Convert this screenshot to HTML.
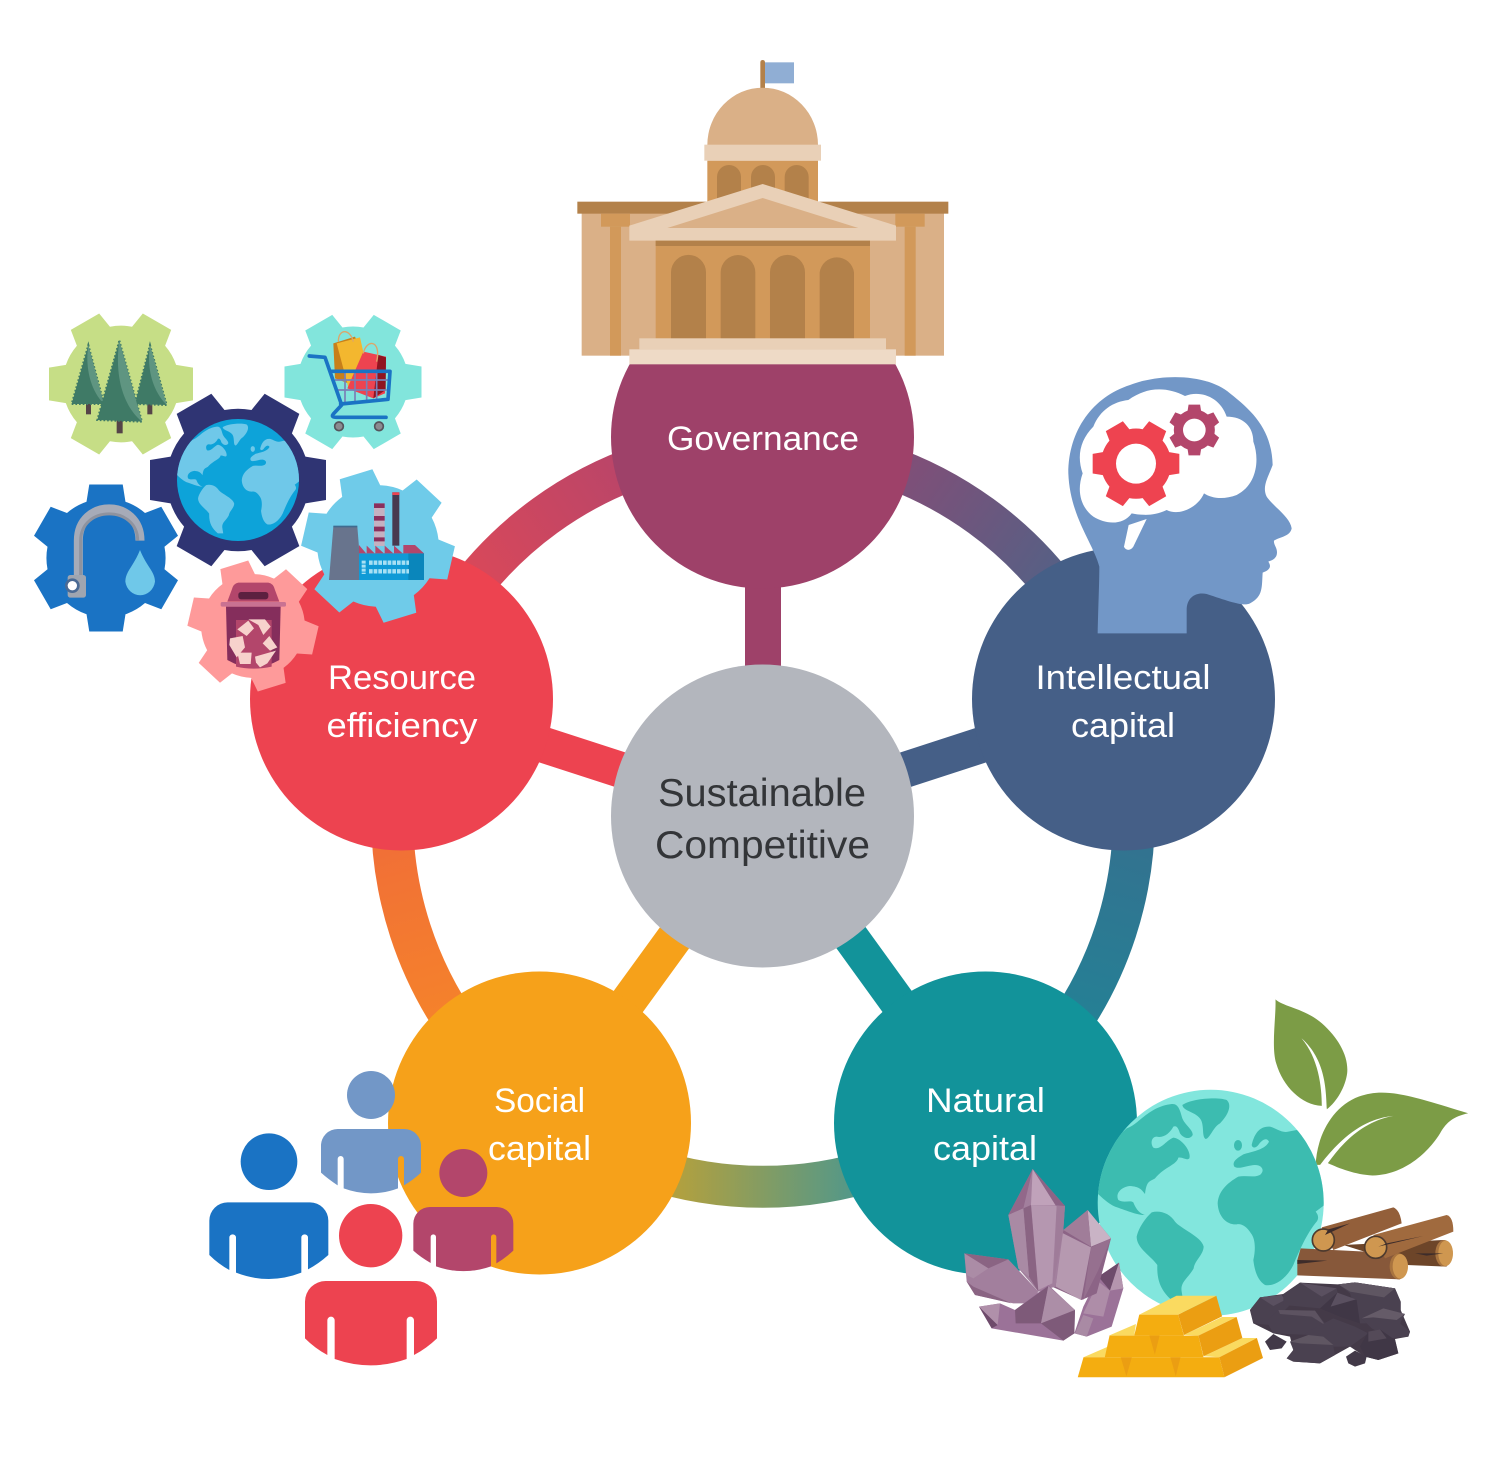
<!DOCTYPE html>
<html><head><meta charset="utf-8"><title>Sustainable Competitive</title>
<style>html,body{margin:0;padding:0;background:#fff}svg{display:block}text{font-family:"Liberation Sans",sans-serif;text-anchor:middle}</style></head>
<body>
<svg xmlns="http://www.w3.org/2000/svg" width="1500" height="1470" viewBox="0 0 1500 1470">
<defs>
<path id="gear" d="M.766-.265L1-.227V.227L.766.265A.81.81 0 0 1 .6125.5305L.697.752L.303.98L.1535.7955A.81.81 0 0 1-.1535.7955L-.303.98L-.697.752L-.6125.5305A.81.81 0 0 1-.766.265L-1 .227V-.227L-.766-.265A.81.81 0 0 1-.6125-.5305L-.697-.752L-.303-.98L-.1535-.7955A.81.81 0 0 1 .1535-.7955L.303-.98L.697-.752L.6125-.5305A.81.81 0 0 1 .766-.265Z"/>
<clipPath id="gc"><circle cx="347" cy="353.5" r="339"/></clipPath>
<g id="land" clip-path="url(#gc)">
<path d="M95,130C130,120 160,65 230,57C250,55 255,75 262,100C270,120 295,135 293,150C285,165 265,160 255,145C250,130 245,120 235,125C225,145 205,160 185,155C170,155 165,175 175,188C195,198 215,165 235,158C260,160 290,200 283,220C275,228 262,215 250,218C245,240 210,245 180,280C165,290 155,285 150,327C140,315 135,305 105,303C80,305 60,325 70,345C85,355 105,345 115,352C120,365 130,385 150,390C130,392 90,375 60,365C30,350 15,330 -5,315C5,230 50,170 95,130Z"/>
<path d="M262,60C290,40 370,35 395,45C412,60 400,90 375,115C355,125 345,160 332,162C320,155 328,125 318,105C305,80 265,80 262,60Z"/>
<path d="M170,382C195,375 225,385 240,410C255,430 320,455 326,485C325,510 300,525 296,550C280,580 255,590 260,620L265,650L235,650C200,620 185,590 187,540C165,510 125,490 125,455C130,430 150,400 170,382Z"/>
<path d="M470,180C478,145 495,122 525,125C545,130 560,145 580,140L605,135L720,200L720,350L686,362L662,380C670,390 672,400 665,410C640,440 620,480 595,540C570,590 530,605 510,600C485,585 478,550 475,525C483,490 480,460 468,445C455,425 440,415 425,418C395,420 370,395 368,355C370,320 395,295 430,275C455,270 480,280 497,268C510,255 500,240 480,240C460,240 430,255 418,245C410,230 425,220 445,208C470,200 510,195 522,170C515,155 500,165 490,180C482,190 472,190 470,180Z"/>
<ellipse cx="429" cy="181" rx="12" ry="16"/>
</g>
<linearGradient id="r1" gradientUnits="userSpaceOnUse" x1="470" y1="570" x2="620" y2="470"><stop offset="0" stop-color="#d8485a"/><stop offset="1" stop-color="#bb4568"/></linearGradient>
<linearGradient id="r2" gradientUnits="userSpaceOnUse" x1="905" y1="470" x2="1050" y2="570"><stop offset="0" stop-color="#7f4f78"/><stop offset="1" stop-color="#585f84"/></linearGradient>
<linearGradient id="r3" gradientUnits="userSpaceOnUse" x1="1135" y1="850" x2="1085" y2="1020"><stop offset="0" stop-color="#327390"/><stop offset="1" stop-color="#258095"/></linearGradient>
<linearGradient id="r4" gradientUnits="userSpaceOnUse" x1="680" y1="1190" x2="850" y2="1190"><stop offset="0" stop-color="#b0a040"/><stop offset="1" stop-color="#559887"/></linearGradient>
<linearGradient id="r5" gradientUnits="userSpaceOnUse" x1="390" y1="850" x2="440" y2="1020"><stop offset="0" stop-color="#f17036"/><stop offset="1" stop-color="#f5822b"/></linearGradient>
</defs>

<!-- ring -->
<g fill="none" stroke-width="42">
<path d="M410.2,701.4A371,371 0 0 1 763,445" stroke="url(#r1)"/>
<path d="M763,445A371,371 0 0 1 1115.8,701.4" stroke="url(#r2)"/>
<path d="M1115.8,701.4A371,371 0 0 1 981,1116" stroke="url(#r3)"/>
<path d="M981,1116A371,371 0 0 1 545,1116" stroke="url(#r4)"/>
<path d="M545,1116A371,371 0 0 1 410.2,701.4" stroke="url(#r5)"/>
</g>
<!-- spokes -->
<g stroke-width="36">
<line x1="763" y1="816" x2="763" y2="437" stroke="#9e4169"/>
<line x1="763" y1="816" x2="1123" y2="699" stroke="#455f87"/>
<line x1="763" y1="816" x2="985" y2="1123" stroke="#12939a"/>
<line x1="763" y1="816" x2="540" y2="1123" stroke="#f6a11a"/>
<line x1="763" y1="816" x2="402" y2="699" stroke="#ed4350"/>
</g>
<!-- circles -->
<circle cx="762.5" cy="437" r="151.5" fill="#9e4169"/>
<circle cx="1123.5" cy="699" r="151.5" fill="#455f87"/>
<circle cx="985.5" cy="1123" r="151.5" fill="#12939a"/>
<circle cx="539.5" cy="1123" r="151.5" fill="#f6a11a"/>
<circle cx="401.5" cy="699" r="151.5" fill="#ed4350"/>
<circle cx="762.5" cy="816" r="151.5" fill="#b3b6bd"/>

<!-- building -->
<g transform="translate(570,50) scale(.33333)">
<rect x="571" y="30" width="14" height="90" rx="7" fill="#b3814a"/>
<rect x="585" y="37" width="87" height="63" fill="#90aed4"/>
<path d="M412,285A166,172 0 0 1 744,285Z" fill="#dab087"/>
<rect x="412" y="332" width="332" height="130" fill="#d2995a"/>
<g fill="#b3814a">
<path d="M441,450V381a36,36 0 0 1 72,0V450Z"/><path d="M543,450V381a36,36 0 0 1 72,0V450Z"/><path d="M644,450V381a36,36 0 0 1 72,0V450Z"/>
</g>
<rect x="403" y="284" width="350" height="48" fill="#e9d0b7"/>
<rect x="35" y="490" width="1087" height="427" fill="#dab087"/>
<rect x="22" y="455" width="1113" height="36" fill="#b3814a"/>
<g fill="#d2995a">
<rect x="93" y="491" width="87" height="39"/><rect x="120" y="530" width="33" height="387"/>
<rect x="976" y="491" width="88" height="39"/><rect x="1004" y="530" width="33" height="387"/>
<rect x="257" y="572" width="643" height="293"/>
</g>
<path d="M178,527L578,402L978,527V572H178Z" fill="#e9d0b7"/>
<path d="M292,534L578,444L865,534Z" fill="#dab087"/>
<rect x="257" y="572" width="643" height="16" fill="#b3814a"/>
<g fill="#b3814a">
<path d="M303,865V667a52,52 0 0 1 105,0V865Z"/><path d="M452,865V667a52,52 0 0 1 104,0V865Z"/><path d="M600,865V667a52,52 0 0 1 105,0V865Z"/><path d="M749,865V667a52,52 0 0 1 103,0V865Z"/>
</g>
<rect x="208" y="865" width="740" height="33" fill="#e9d0b7"/>
<rect x="178" y="898" width="800" height="45" fill="#eedac6"/>
</g>

<!-- head -->
<g transform="translate(1050,370) scale(.33333)">
<path fill="#7297c7" d="M143,790C145,700 148,640 148,590C130,520 60,440 55,310C55,180 130,80 240,45C330,10 470,10 540,70C610,125 665,180 668,285C655,320 635,350 650,380C670,410 720,440 725,475C720,500 690,500 672,512C670,525 685,535 680,555C675,570 660,572 655,575C665,590 660,600 638,608C635,650 640,680 600,700C580,710 540,695 470,672C440,665 410,680 410,720L410,790Z"/>
<path fill="#fff" d="M235,90C290,50 350,50 405,78C450,60 510,80 530,140C580,140 610,170 610,215C630,270 620,345 560,375C520,390 485,385 462,370C445,410 390,440 350,420C310,440 270,435 245,430C220,465 170,465 130,440C90,410 80,360 98,310C80,260 90,210 130,170C150,120 190,95 235,90Z"/>
<path fill="#fff" d="M236,465L290,447L250,530C240,545 225,540 222,530Z"/>
<use href="#gear" transform="translate(258,281) scale(130)" fill="#ee4350"/>
<circle cx="258" cy="281" r="60" fill="#fff"/>
<use href="#gear" transform="translate(433,180) rotate(30) scale(76)" fill="#b3466b"/>
<circle cx="433" cy="180" r="34" fill="#fff"/>
</g>

<!-- gears -->
<use href="#gear" transform="translate(121,384) scale(72)" fill="#c6de86"/>
<use href="#gear" transform="translate(353,382) scale(68.5)" fill="#82e5dc"/>
<use href="#gear" transform="translate(106,558) rotate(30) scale(73.5)" fill="#1a73c4"/>
<use href="#gear" transform="translate(238,480) scale(88)" fill="#2f3473"/>
<circle cx="238" cy="480" r="61" fill="#0da3d9"/>
<g transform="translate(238,480) scale(.18) translate(-347,-353.5)" fill="#6fc8e9"><use href="#land"/></g>
<use href="#gear" transform="translate(378,546) rotate(13) scale(75)" fill="#6fcbe9"/>
<use href="#gear" transform="translate(253,626) rotate(13) scale(64)" fill="#fe9a9a"/>

<g transform="translate(20,300) scale(.33333)">
<!-- trees -->
<rect x="198" y="305" width="15" height="38" fill="#554448"/>
<rect x="382" y="305" width="15" height="38" fill="#554448"/>
<path d="M205,135L252,312L155,312Z" fill="#3f7a66" stroke="#3f7a66" stroke-width="6" stroke-dasharray="5 6"/><path d="M205,135C195,200 210,270 252,312Z" fill="#5f9581"/>
<path d="M390,135L440,315L345,312Z" fill="#3f7a66" stroke="#3f7a66" stroke-width="6" stroke-dasharray="5 6"/><path d="M390,135C380,200 395,270 440,315Z" fill="#5f9581"/>
<rect x="290" y="350" width="18" height="50" fill="#554448"/>
<path d="M298,122L366,365L232,360Z" fill="#3f7a66" stroke="#3f7a66" stroke-width="6" stroke-dasharray="5 6"/><path d="M298,122C285,210 300,310 366,365Z" fill="#5f9581"/>
<!-- tap -->
<path d="M175,830V722C175,595 360,595 360,722" fill="none" stroke="#a6abb8" stroke-width="27"/>
<path d="M182,830V722C182,615 353,615 353,722" fill="none" stroke="#8e939f" stroke-width="9"/>
<rect x="143" y="825" width="55" height="68" rx="8" fill="#9fa5b0"/>
<circle cx="157" cy="857" r="22" fill="#4b6a94"/><circle cx="157" cy="857" r="14" fill="#fff"/>
<path d="M360,750C380,800 405,815 405,845A45,48 0 0 1 316,845C316,815 340,800 360,750Z" fill="#6fc8e9"/>
<!-- cart -->
<path d="M940,130L1005,110L1025,160L985,250L945,235Z" fill="#c77f1a"/>
<path d="M950,130L1020,112L1032,165L985,262Z" fill="#f3b72f"/>
<path d="M1030,155L1098,170L1095,280L1060,295L982,265Z" fill="#ee4350"/>
<path d="M1075,165L1098,172L1097,270L1060,295Z" fill="#8f1420"/>
<path d="M955,125C955,85 990,85 1000,125M1030,160C1040,115 1085,120 1070,185" fill="none" stroke="#dca66a" stroke-width="4"/>
<path d="M945,240H1105M950,270H1100M975,215V310M1005,215V310M1040,215V305M1070,215V305" stroke="#7a7fb5" stroke-width="5" fill="none"/>
<path d="M868,168L915,172L965,315L940,342Q932,352 950,352H1098M935,214H1110L1104,298L962,312" fill="none" stroke="#1a73c4" stroke-width="11" stroke-linecap="round" stroke-linejoin="round"/>
<circle cx="957" cy="379" r="13" fill="#8b8b90" stroke="#55555c" stroke-width="5"/><circle cx="1077" cy="379" r="13" fill="#8b8b90" stroke="#55555c" stroke-width="5"/>
<!-- factory -->
<path d="M940,680H1012L1025,840H927Z" fill="#68748d"/><rect x="940" y="677" width="72" height="5" fill="#3f6b8f"/>
<rect x="1062" y="610" width="32" height="128" fill="#c5b0c0"/>
<path d="M1062,610h32v14h-32zM1062,648h32v14h-32zM1062,680h32v14h-32zM1062,712h32v12h-32z" fill="#8a2f5c"/>
<rect x="1117" y="577" width="21" height="160" fill="#48394f"/><rect x="1117" y="577" width="21" height="8" fill="#ee4350"/>
<rect x="1017" y="760" width="195" height="80" fill="#0f9ad6"/><rect x="1165" y="760" width="47" height="80" fill="#0a86bb"/>
<path d="M1017,735L1040,762L1040,737L1066,762L1066,737L1094,762L1094,737L1122,762L1122,737L1150,762L1150,735H1185L1212,760H1017Z" fill="#b3466b"/>
<path d="M1047,788H1167M1047,814H1167" stroke="#a7e0f4" stroke-width="13" stroke-dasharray="11 3" fill="none"/>
<path d="M1031,782V822" stroke="#a7e0f4" stroke-width="12" stroke-dasharray="9 3" fill="none"/>
<!-- bin -->
<path d="M618,920H782L778,1080Q700,1125 622,1080Z" fill="#852e5c"/>
<path d="M648,960H755V1100Q700,1112 648,1100Z" fill="#b3466b"/>
<path d="M655,848H745Q760,850 765,870L778,905H622L635,870Q640,850 655,848Z" fill="#b3466b"/>
<rect x="655" y="876" width="90" height="22" rx="8" fill="#5c2040"/>
<rect x="602" y="906" width="196" height="14" rx="5" fill="#c97292"/>
</g>
<g transform="translate(180,560) scale(.33333)" fill="#f7d2cc">
<path d="M205,182L222,205L200,228L172,208Z"/><path d="M205,178H255L272,200L250,225L235,195Z"/>
<path d="M268,228L292,262L270,272L248,250Z"/><path d="M225,290L288,272L262,310L240,322L228,308Z"/>
<path d="M172,278H215L212,312H180Z"/><path d="M150,235L188,228L195,262L170,292L148,255Z"/>
</g>

<!-- leaves -->
<g transform="translate(950,990) scale(.338,.333)">
<path fill="#7c9c46" d="M963,28C985,50 1050,55 1100,100C1150,145 1180,200 1175,250C1170,290 1145,335 1115,358C1112,300 1112,210 1040,145C1090,205 1100,290 1100,348C1040,345 985,290 965,220C950,170 965,80 963,28Z"/>
<path fill="#7c9c46" d="M1533,370C1490,380 1470,395 1450,430C1420,480 1350,555 1250,557C1200,555 1150,535 1118,520C1160,460 1220,395 1312,378C1240,385 1170,425 1095,525L1082,525C1085,440 1130,350 1210,320C1290,290 1370,320 1533,370Z"/>
</g>
<!-- globe -->
<circle cx="1210.7" cy="1202.8" r="113" fill="#82e6dd"/>
<g transform="translate(1095,1085) scale(.33333)" fill="#3cbcb0"><use href="#land"/></g>

<!-- logs + coal -->
<g transform="translate(1240,1190) scale(.33333)">
<path d="M310,165L610,150L620,230L500,225Z" fill="#6d4529"/>
<ellipse cx="612" cy="190" rx="26" ry="40" fill="#a9743f"/>
<ellipse cx="617" cy="190" rx="22" ry="38" fill="#cf9750"/>
<path d="M525,190L610,190L560,197Z" fill="#3d2c2a"/>
<path d="M182,175L480,190V268L172,256V210Z" fill="#87583a"/>
<ellipse cx="476" cy="229" rx="27" ry="39" fill="#a9743f"/>
<ellipse cx="481" cy="229" rx="23" ry="37" fill="#cf9750"/>
<path d="M172,210L262,212L172,222Z" fill="#3d2c2a"/>
<path d="M245,112L460,52Q480,60 485,100L280,180Z" fill="#935f3a"/>
<circle cx="250" cy="150" r="33" fill="#cf9750" stroke="#4d3a2e" stroke-width="5"/>
<path d="M255,135L330,100L265,118Z" fill="#3d2c2a"/>
<path d="M400,135L620,75Q640,80 640,125L435,205Z" fill="#a06a3e"/>
<circle cx="407" cy="172" r="33" fill="#cf9750" stroke="#4d3a2e" stroke-width="5"/>
<path d="M415,170L550,138L440,160Z" fill="#3d2c2a"/>
<g fill="#4a4150">
<path d="M40,400L30,360L60,322L130,312L180,278L295,283L345,277L465,295L482,335V360L510,425L505,440L465,447L475,490L415,510L375,500L330,470L285,495L240,520L160,515L140,505L160,480L150,440L100,430Z" fill="#443a48"/>
<path d="M295,283L345,277L465,295L482,335V400H360L330,310Z"/>
<path d="M295,283L345,277L465,295L432,322L330,305Z" fill="#5f5662"/>
<path d="M30,360L60,322L125,315L150,345L90,405L40,400Z"/>
<path d="M60,322L125,315L135,330L100,348Z" fill="#5a5060"/>
<path d="M130,312L180,278L290,295L295,320L240,355L130,345Z"/>
<path d="M180,278L290,295L245,320Z" fill="#5a5060"/>
<path d="M240,355L292,308L350,330L360,400L300,380Z" fill="#403746"/>
<path d="M292,308L348,328L272,350Z" fill="#5a5060"/>
<path d="M80,395L115,360L225,362L255,400L215,435L100,430Z"/>
<path d="M115,360L225,362L255,405L215,380L120,372Z" fill="#5d5361"/>
<path d="M195,430L280,385L345,410L385,430L330,470L260,470Z"/>
<path d="M365,385L430,355L495,372L480,400L510,425L505,440L450,445L395,415Z"/>
<path d="M365,385L430,355L495,372L470,390L400,382Z" fill="#655b68"/>
<path d="M360,470L385,425L420,418L465,450L475,490L415,510L375,500Z" fill="#403746"/>
<path d="M385,425L420,418L440,445L385,455Z" fill="#544a58"/>
<path d="M150,455L205,435L250,440L280,470L285,495L240,520L160,515L140,505L160,480Z"/>
<path d="M150,455L205,435L250,440L280,465L180,460Z" fill="#5f5662"/>
<path d="M75,455L100,432L140,455L125,475L90,480Z" fill="#423948"/>
<path d="M318,500L345,482L380,500L375,520L345,530L325,520Z" fill="#423948"/>
</g>
</g>

<!-- gold -->
<g transform="translate(950,990) scale(.338,.333)">
<path d="M395,1103L470,1070L465,1103Z" fill="#fada60"/>
<path d="M750,1100L797,1103L908,1045L865,1045Z" fill="#fada60"/>
<path d="M395,1103L378,1163H812L797,1103Z" fill="#f4ad10"/>
<path d="M797,1103L908,1045L926,1105L812,1163Z" fill="#eb9e12"/>
<path d="M470,1038H545L550,1003Z" fill="#fada60"/>
<path d="M692,1036L735,1038L848,982L805,982Z" fill="#fada60"/>
<path d="M472,1038L458,1103H750L735,1038Z" fill="#f4ad10"/>
<path d="M735,1038L848,982L865,1045L750,1100Z" fill="#eb9e12"/>
<path d="M560,975L545,1038H692L675,975Z" fill="#f4ad10"/>
<path d="M675,975L788,918L805,980L692,1036Z" fill="#eb9e12"/>
<path d="M560,975H675L788,918H670Z" fill="#fada60"/>
<path d="M590,1038H620L606,1095ZM505,1103H538L522,1160ZM652,1103H682L668,1160Z" fill="#eb9e12"/>
</g>

<!-- crystal -->
<g transform="translate(955,1160) scale(.33333)">
<path d="M492,308L505,385L470,500L395,530L358,520L385,440L430,350Z" fill="#9b7298"/>
<path d="M492,308L430,350L465,392Z" fill="#6e4b6b"/>
<path d="M492,308L505,385L465,392Z" fill="#b595ae"/>
<path d="M430,365L465,392L445,470L385,460Z" fill="#ae8da8"/>
<path d="M385,465L415,475L395,530L360,520Z" fill="#a98aa4"/>
<path d="M398,150L468,235L425,400L380,420L280,375L320,215Z" fill="#8c6486"/>
<path d="M398,150L468,235L408,260Z" fill="#c9b3c5"/>
<path d="M398,150L325,210L408,260Z" fill="#a07d99"/>
<path d="M320,218L408,262L378,420L302,380Z" fill="#b699b0"/>
<path d="M408,262L468,235L430,330L385,420Z" fill="#96708f"/>
<path d="M233,27L330,138L325,210L302,380L250,395L190,325L160,165Z" fill="#a27f9d"/>
<path d="M233,27L160,165L205,145Z" fill="#92688a"/>
<path d="M233,27L228,135L302,136Z" fill="#c0a2ba"/>
<path d="M233,27L330,138L302,136Z" fill="#8c6486"/>
<path d="M228,135L305,138L292,370L250,390Z" fill="#b597b0"/>
<path d="M205,145L228,135L250,395L222,350Z" fill="#8a6483"/>
<path d="M305,138L330,138L325,210L295,370Z" fill="#9f7c99"/>
<path d="M160,165L205,145L222,350L190,325Z" fill="#a98aa4"/>
<path d="M28,280L160,298L250,395L230,430L175,430L60,405L35,365Z" fill="#a27f9d"/>
<path d="M28,280L160,298L100,325Z" fill="#8a6483"/>
<path d="M28,280L100,325L55,355L35,345Z" fill="#ab8ca6"/>
<path d="M35,365L60,405L170,430L55,380Z" fill="#8a6483"/>
<path d="M72,440L135,430L180,450L280,375L360,450L358,520L325,542L110,505Z" fill="#9b7298"/>
<path d="M72,440L128,495L110,505Z" fill="#6e4b6b"/>
<path d="M72,440L135,430L128,495Z" fill="#b090aa"/>
<path d="M180,450L280,378L258,490L182,490Z" fill="#7e5a79"/>
<path d="M280,378L360,450L258,490Z" fill="#ac8ea7"/>
<path d="M258,490L360,450L358,520L325,542Z" fill="#7e5a79"/>
</g>

<!-- people -->
<g transform="translate(200,1060) scale(.33333)">
<circle cx="513" cy="105" r="72" fill="#7297c7"/>
<path fill="#7297c7" d="M363,338V257a50,50 0 0 1 50,-50H613a50,50 0 0 1 50,50V338Q640,360 612,376V297a9,9 0 0 0 -18,0V385Q513,415 431,385V297a9,9 0 0 0 -18,0V376Q385,358 363,338Z"/>
<circle cx="207" cy="305" r="85" fill="#1a73c4"/>
<path fill="#1a73c4" d="M28,585V482a55,55 0 0 1 55,-55H330a55,55 0 0 1 55,55V585Q355,612 324,628V533a10,10 0 0 0 -20,0V638Q207,676 108,638V533a10,10 0 0 0 -20,0V630Q55,612 28,585Z"/>
<circle cx="790" cy="339" r="72" fill="#b3466b"/>
<path fill="#b3466b" d="M640,572V491a50,50 0 0 1 50,-50H890a50,50 0 0 1 50,50V572Q915,595 889,610V531a8,8 0 0 0 -16,0V619Q790,648 708,619V531a8,8 0 0 0 -16,0V609Q662,592 640,572Z"/>
<circle cx="512" cy="527" r="95" fill="#ed4350"/>
<path fill="#ed4350" d="M315,835V725a62,62 0 0 1 62,-62H649a62,62 0 0 1 62,62V835Q680,865 642,885V781a11,11 0 0 0 -22,0V897Q512,935 404,897V781a11,11 0 0 0 -22,0V885Q345,865 315,835Z"/>
</g>

<!-- labels -->
<g font-size="34" fill="#fff">
<text x="763" y="450" textLength="192" lengthAdjust="spacingAndGlyphs">Governance</text>
<text x="402" y="689" textLength="148" lengthAdjust="spacingAndGlyphs">Resource</text>
<text x="402" y="737" textLength="151" lengthAdjust="spacingAndGlyphs">efficiency</text>
<text x="1123" y="689" textLength="175" lengthAdjust="spacingAndGlyphs">Intellectual</text>
<text x="1123" y="737" textLength="104" lengthAdjust="spacingAndGlyphs">capital</text>
<text x="985.5" y="1112" textLength="119" lengthAdjust="spacingAndGlyphs">Natural</text>
<text x="985" y="1160" textLength="104" lengthAdjust="spacingAndGlyphs">capital</text>
<text x="539.5" y="1112" textLength="91" lengthAdjust="spacingAndGlyphs">Social</text>
<text x="539.5" y="1160" textLength="103" lengthAdjust="spacingAndGlyphs">capital</text>
</g>
<g font-size="39" fill="#333538">
<text x="762" y="806" textLength="208" lengthAdjust="spacingAndGlyphs">Sustainable</text>
<text x="762.5" y="858" textLength="215" lengthAdjust="spacingAndGlyphs">Competitive</text>
</g>
</svg>
</body></html>
